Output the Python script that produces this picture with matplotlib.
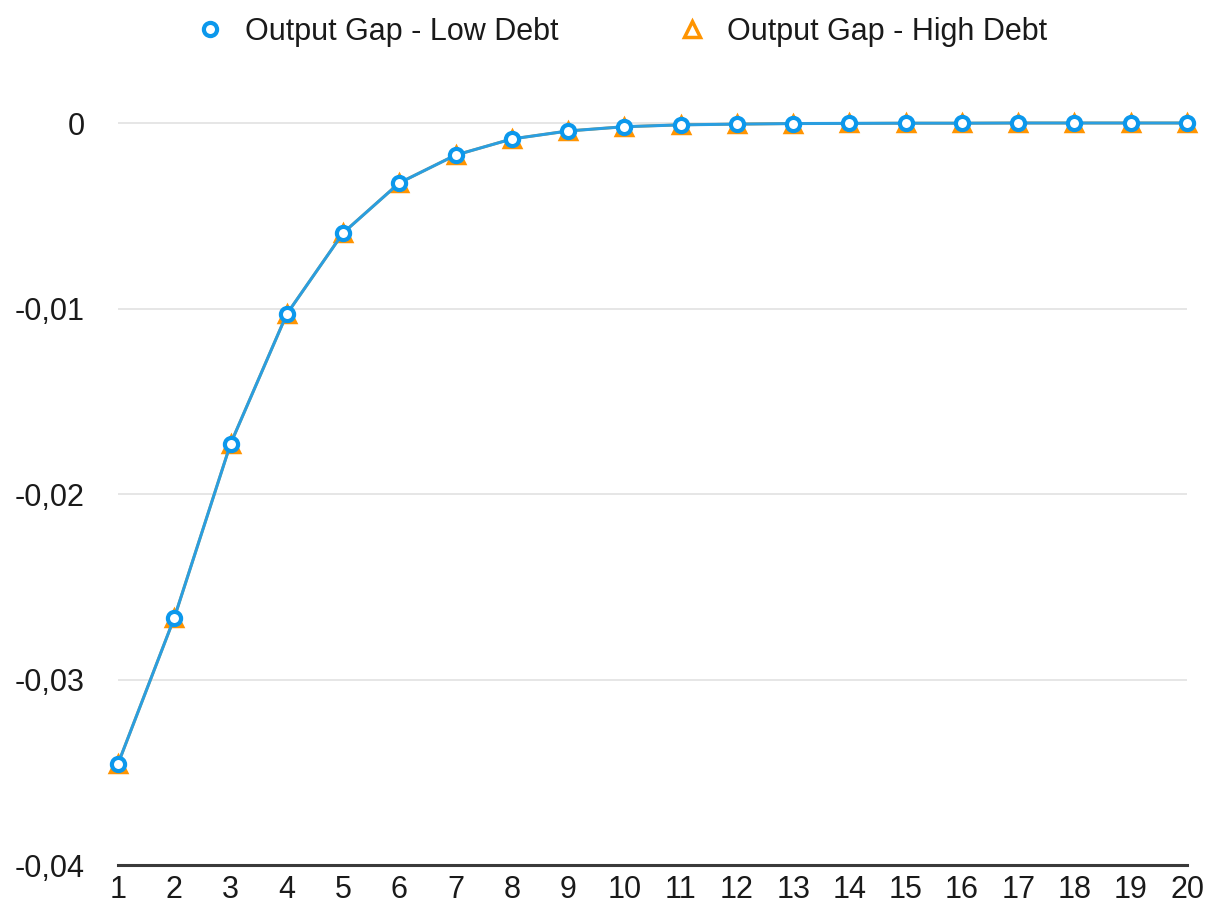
import matplotlib
matplotlib.use("Agg")
import matplotlib.pyplot as plt
from matplotlib.ticker import FuncFormatter, FixedLocator

plt.rcParams['font.family'] = ['Liberation Sans', 'DejaVu Sans']

periods = list(range(1, 21))
gap_low_debt = [-0.03455, -0.02668, -0.01730, -0.01030, -0.00593, -0.00323, -0.00173,
                -0.00086, -0.00043, -0.00020, -0.00010, -0.00006, -0.00003, -0.00002,
                -0.00001, -0.00001, 0.0, 0.0, 0.0, 0.0]
gap_high_debt = [-0.03455, -0.02668, -0.01730, -0.01030, -0.00593, -0.00323, -0.00173,
                 -0.00086, -0.00043, -0.00020, -0.00010, -0.00006, -0.00003, -0.00002,
                 -0.00001, -0.00001, 0.0, 0.0, 0.0, 0.0]
y_ticks = [-0.04, -0.03, -0.02, -0.01, 0.0]

BLUE = '#0c98ec'
LINE_BLUE = '#2a9ee0'
ORANGE = '#ff9400'

fig = plt.figure(figsize=(12.08, 9.13), dpi=100)
ax = fig.add_axes([118 / 1208, 48 / 913, 1069 / 1208, 765 / 913])

h_high, = ax.plot(periods, gap_high_debt, color=ORANGE, lw=2.0, marker='^',
                  markersize=11, markerfacecolor='white', markeredgecolor=ORANGE,
                  markeredgewidth=2.5, clip_on=False, zorder=3,
                  label='Output Gap - High Debt')
h_low, = ax.plot(periods, gap_low_debt, color=LINE_BLUE, lw=2.2, marker='o',
                 markersize=9.5, markerfacecolor='white', markeredgecolor=BLUE,
                 markeredgewidth=3, clip_on=False, zorder=4,
                 label='Output Gap - Low Debt')

ax.set_xlim(1, 20)
ax.set_ylim(-0.04, 0.00124)
ax.set_xticks(periods)
ax.yaxis.set_major_locator(FixedLocator(y_ticks))
ax.yaxis.set_major_formatter(FuncFormatter(
    lambda v, p: '0' if abs(v) < 1e-12 else f'{v:.2f}'.replace('.', ',')))

for s in ['top', 'right', 'left']:
    ax.spines[s].set_visible(False)
ax.spines['bottom'].set_color('#3a3a3a')
ax.spines['bottom'].set_linewidth(2.2)

ax.grid(axis='y', color='#e2e2e2', lw=1.2)
ax.set_axisbelow(True)
ax.tick_params(axis='both', length=0, labelsize=22, labelcolor='#1a1a1a')
ax.tick_params(axis='y', pad=24)
ax.tick_params(axis='x', pad=7)

fig.legend(handles=[h_low, h_high], loc='center', bbox_to_anchor=(0.5205, 1 - 32 / 913),
           ncol=2, frameon=False, fontsize=22, handlelength=0, handletextpad=1.15,
           columnspacing=4.35, labelcolor='#1a1a1a')

fig.savefig('out.png', dpi=100)
